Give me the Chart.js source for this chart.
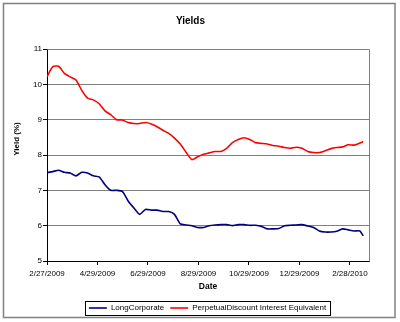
<!DOCTYPE html>
<html>
<head>
<meta charset="utf-8">
<script src="https://cdn.jsdelivr.net/npm/chart.js@4"></script>
<style>
  html, body { margin: 0; padding: 0; background: #fff; }
  #wrap { width: 400px; height: 322px; }
</style>
</head>
<body>
<div id="wrap"><canvas id="yieldsChart" width="400" height="322"></canvas></div>
<script>
// weekly observation dates
const dates = [
  '2/27/2009', '3/6/2009', '3/13/2009', '3/20/2009', '3/27/2009', '4/3/2009', '4/10/2009', '4/17/2009',
  '4/24/2009', '5/1/2009', '5/8/2009', '5/15/2009', '5/22/2009', '5/29/2009', '6/5/2009', '6/12/2009',
  '6/19/2009', '6/26/2009', '7/3/2009', '7/10/2009', '7/17/2009', '7/24/2009', '7/31/2009', '8/7/2009',
  '8/14/2009', '8/21/2009', '8/28/2009', '9/4/2009', '9/11/2009', '9/18/2009', '9/25/2009', '10/2/2009',
  '10/9/2009', '10/16/2009', '10/23/2009', '10/30/2009', '11/6/2009', '11/13/2009', '11/20/2009', '11/27/2009',
  '12/4/2009', '12/11/2009', '12/18/2009', '12/25/2009', '1/1/2010', '1/8/2010', '1/15/2010', '1/22/2010',
  '1/29/2010', '2/5/2010', '2/12/2010', '2/19/2010', '2/26/2010', '3/5/2010', '3/12/2010', '3/16/2010'
];

const longCorporate = [
  7.50, 7.53, 7.57, 7.51, 7.49, 7.41, 7.51, 7.49,
  7.41, 7.38, 7.16, 7.00, 7.00, 6.97, 6.70, 6.50,
  6.32, 6.46, 6.44, 6.44, 6.40, 6.40, 6.32, 6.05,
  6.02, 6.00, 5.95, 5.95, 6.00, 6.02, 6.03, 6.03,
  6.00, 6.03, 6.03, 6.01, 6.01, 5.98, 5.91, 5.91,
  5.92, 6.00, 6.01, 6.02, 6.03, 5.99, 5.95, 5.85,
  5.82, 5.82, 5.84, 5.91, 5.88, 5.85, 5.85, 5.71
];

const perpetualDiscount = [
  10.22, 10.50, 10.51, 10.31, 10.21, 10.12, 9.83, 9.61,
  9.56, 9.45, 9.25, 9.14, 9.00, 8.99, 8.92, 8.89,
  8.89, 8.92, 8.88, 8.80, 8.70, 8.61, 8.48, 8.31,
  8.08, 7.87, 7.95, 8.02, 8.06, 8.10, 8.10, 8.19,
  8.35, 8.44, 8.49, 8.44, 8.35, 8.33, 8.31, 8.27,
  8.25, 8.21, 8.19, 8.22, 8.19, 8.10, 8.07, 8.07,
  8.12, 8.18, 8.21, 8.23, 8.29, 8.28, 8.34, 8.38
];

const tickLabels = ['2/27/2009', '4/29/2009', '6/29/2009', '8/29/2009', '10/29/2009', '12/29/2009', '2/28/2010'];

// days since the first date, used as the x value
function dayOf(s) {
  const [m, d, y] = s.split('/').map(Number);
  const [m0, d0, y0] = dates[0].split('/').map(Number);
  return Math.round((Date.UTC(y, m - 1, d) - Date.UTC(y0, m0 - 1, d0)) / 86400000);
}

const toPoints = vals => vals.map((v, i) => ({ x: dayOf(dates[i]), y: v }));

const FONT = "'Liberation Sans', Arial, sans-serif";
const LEGEND_SHIFT = 17;

// outer frame, plot border, y title and a box round the legend
const framePlugin = {
  id: 'frame',
  afterLayout(chart) {
    // centre the legend under the plot rather than the canvas
    const lg = chart.legend;
    lg.left += LEGEND_SHIFT;
    lg.right += LEGEND_SHIFT;
  },
  beforeDraw(chart) {
    const ctx = chart.ctx;
    ctx.save();
    ctx.fillStyle = '#fff';
    ctx.fillRect(0, 0, chart.width, chart.height);
    ctx.strokeStyle = '#808080';
    ctx.lineWidth = 1.5;
    ctx.strokeRect(3.5, 3.5, 391.5, 314);
    ctx.restore();
  },
  afterDraw(chart) {
    const ctx = chart.ctx;
    const a = chart.chartArea;
    ctx.save();
    ctx.strokeStyle = '#808080';
    ctx.lineWidth = 1;
    ctx.beginPath();
    ctx.moveTo(Math.round(a.left) + 0.5, Math.round(a.top) + 0.5);
    ctx.lineTo(Math.round(a.right) + 0.5, Math.round(a.top) + 0.5);
    ctx.lineTo(Math.round(a.right) + 0.5, Math.round(a.bottom) + 0.5);
    ctx.stroke();

    // y axis title, sitting a little above the middle
    ctx.translate(17, 139);
    ctx.rotate(-Math.PI / 2);
    ctx.fillStyle = '#000';
    ctx.font = 'bold 8px ' + FONT;
    ctx.textAlign = 'center';
    ctx.textBaseline = 'middle';
    ctx.fillText('Yield (%)', 0, 0);
    ctx.setTransform(1, 0, 0, 1, 0, 0);

    const boxes = chart.legend.legendHitBoxes;
    if (boxes && boxes.length) {
      const l = Math.min(...boxes.map(b => b.left)) - 4;
      const r = Math.max(...boxes.map(b => b.left + b.width)) + 4;
      const t = Math.min(...boxes.map(b => b.top)) - 3;
      const bt = Math.max(...boxes.map(b => b.top + b.height)) + 3;
      ctx.strokeStyle = '#000';
      ctx.strokeRect(Math.round(l) + 0.5, Math.round(t) + 0.5, Math.round(r - l), Math.round(bt - t));
    }
    ctx.restore();
  }
};

new Chart(document.getElementById('yieldsChart'), {
  type: 'line',
  data: {
    datasets: [
      {
        label: 'LongCorporate',
        data: toPoints(longCorporate),
        borderColor: '#000080',
        backgroundColor: '#000080',
        borderWidth: 1.6,
        pointRadius: 0,
        tension: 0.2
      },
      {
        label: 'PerpetualDiscount Interest Equivalent',
        data: toPoints(perpetualDiscount),
        borderColor: '#ff0000',
        backgroundColor: '#ff0000',
        borderWidth: 1.6,
        pointRadius: 0,
        tension: 0.2
      }
    ]
  },
  options: {
    responsive: false,
    animation: false,
    layout: { padding: { left: 12, right: 31, top: 0, bottom: 0 } },
    plugins: {
      title: {
        display: true,
        text: 'Yields',
        color: '#000',
        font: { family: FONT, size: 10, weight: 'bold' },
        padding: { top: 15, bottom: 22 }
      },
      legend: {
        position: 'bottom',
        labels: {
          color: '#000',
          font: { family: FONT, size: 8 },
          usePointStyle: true,
          pointStyle: 'line',
          pointStyleWidth: 18,
          boxHeight: 8,
          padding: 6
        }
      },
      tooltip: { enabled: false }
    },
    scales: {
      x: {
        type: 'linear',
        min: 0,
        max: 389,
        afterBuildTicks(scale) {
          scale.ticks = tickLabels.map(s => ({ value: dayOf(s) }));
        },
        afterFit(scale) { scale.height = 37; },
        ticks: {
          color: '#000',
          font: { family: FONT, size: 8 },
          padding: 4,
          maxRotation: 0,
          autoSkip: false,
          callback: (v, i) => tickLabels[i]
        },
        grid: { drawOnChartArea: false, tickColor: '#000', tickLength: 4 },
        border: { color: '#000', width: 1 },
        title: {
          display: true,
          text: 'Date',
          color: '#000',
          font: { family: FONT, size: 8.5, weight: 'bold' },
          padding: { top: 2, bottom: 6 }
        }
      },
      y: {
        min: 5,
        max: 11,
        afterFit(scale) { scale.width = 35; },
        ticks: {
          stepSize: 1,
          color: '#000',
          font: { family: FONT, size: 8 },
          padding: 1
        },
        grid: { color: '#808080', tickColor: '#000', tickLength: 4 },
        border: { color: '#000', width: 1 },
        title: { display: false }
      }
    }
  },
  plugins: [framePlugin]
});
</script>
</body>
</html>
